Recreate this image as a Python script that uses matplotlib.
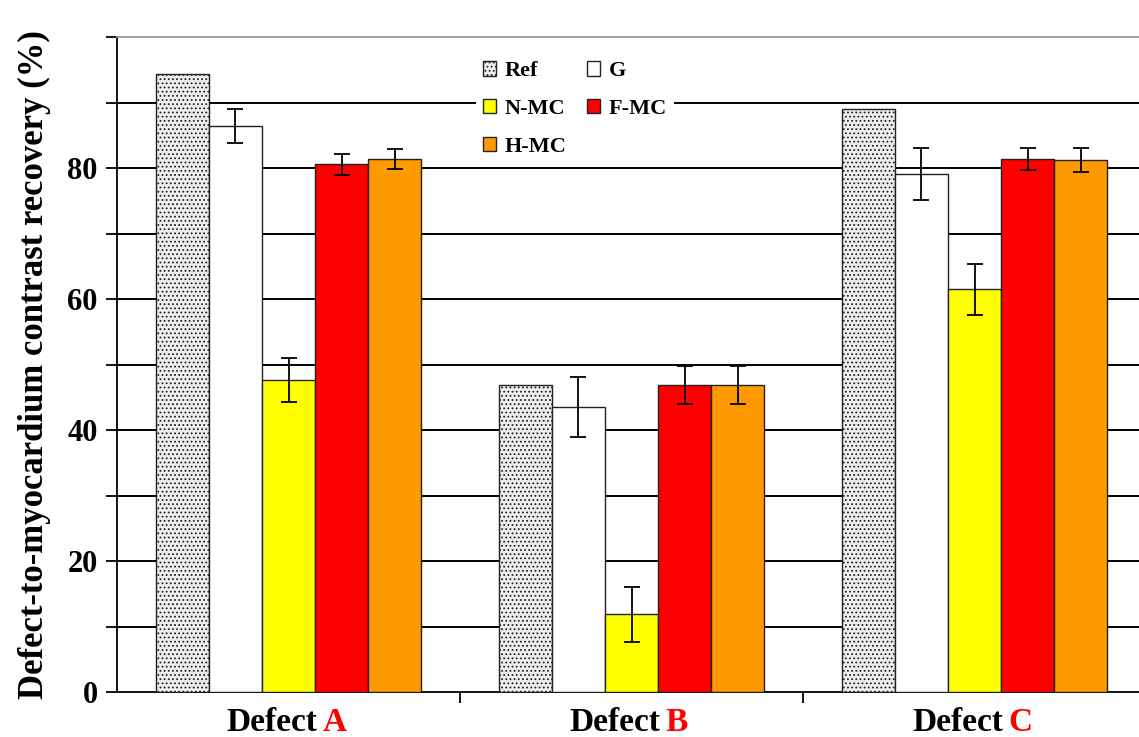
import numpy as np
import matplotlib
matplotlib.use("Agg")
import matplotlib.pyplot as plt

# values
defects = ["A", "B", "C"]
series = ["Ref", "G", "N-MC", "F-MC", "H-MC"]
ref = [94.4, 46.9, 89.0]
g = [86.4, 43.5, 79.1]
nmc = [47.6, 11.9, 61.5]
fmc = [80.6, 46.9, 81.4]
hmc = [81.4, 46.9, 81.2]
g_err = [2.6, 4.6, 4.0]
nmc_err = [3.4, 4.2, 3.9]
fmc_err = [1.6, 2.9, 1.7]
hmc_err = [1.5, 2.9, 1.8]

colors = ["#eeeeee", "white", "#ffff00", "#ff0000", "#ff9900"]


def main():
    plt.rcParams["font.family"] = ["Liberation Serif", "DejaVu Serif"]
    plt.rcParams["font.weight"] = "bold"
    plt.rcParams["hatch.color"] = "#444444"
    plt.rcParams["hatch.linewidth"] = 0.8

    fig = plt.figure(figsize=(11.39, 7.37), dpi=100)
    ax = fig.add_axes([117 / 1139, 1 - 692 / 737, 1029 / 1139, 655 / 737])

    values = [ref, g, nmc, fmc, hmc]
    errors = [None, g_err, nmc_err, fmc_err, hmc_err]
    x = np.arange(len(defects))
    w = 0.155
    handles = []
    for i, name in enumerate(series):
        pos = x + (i - 2) * w
        bars = ax.bar(pos, values[i], w, color=colors[i], edgecolor="#222222",
                      linewidth=1.0, zorder=3, label=name,
                      hatch="...." if name == "Ref" else None)
        handles.append(bars)
        if errors[i] is not None:
            ax.errorbar(pos, values[i], yerr=errors[i], fmt="none", ecolor="black",
                        elinewidth=1.3, capsize=6, capthick=1.3, zorder=4)

    ax.set_xlim(-0.5, 2.5)
    ax.set_ylim(0, 100)
    for yv in range(10, 100, 10):
        ax.axhline(yv, color="black", linewidth=1.4, zorder=1)
    ax.spines["top"].set_color("#999999")
    ax.spines["top"].set_linewidth(1.3)
    ax.spines["right"].set_visible(False)
    ax.spines["left"].set_linewidth(1.3)
    ax.spines["bottom"].set_linewidth(1.3)

    ax.set_yticks(range(0, 101, 10))
    ax.set_yticklabels([str(v) if v % 20 == 0 and v < 100 else "" for v in range(0, 101, 10)],
                       fontsize=22, fontweight="bold")
    ax.tick_params(axis="y", length=8, width=1.3, pad=6)
    ax.set_xticks([0.5, 1.5])
    ax.set_xticklabels([])
    ax.tick_params(axis="x", length=8, width=1.3, direction="out")

    for i, d in enumerate(defects):
        ax.annotate("Defect", xy=(i + 0.083, 0), xycoords=("data", "axes fraction"),
                    xytext=(0, -11), textcoords="offset points", ha="right", va="top",
                    fontsize=24, fontweight="bold", color="black")
        ax.annotate(d, xy=(i + 0.1, 0), xycoords=("data", "axes fraction"),
                    xytext=(0, -11), textcoords="offset points", ha="left", va="top",
                    fontsize=24, fontweight="bold", color="#ff0000")

    ax.set_ylabel("Defect-to-myocardium contrast recovery (%)", fontsize=25,
                  fontweight="bold", labelpad=12)

    order = [0, 2, 4, 1, 3]
    leg = ax.legend([handles[k] for k in order], [series[k] for k in order], ncol=2,
                    loc="upper center", bbox_to_anchor=(0.445, 0.99), frameon=True,
                    fontsize=16, handlelength=0.6, handleheight=0.6, handletextpad=0.4,
                    labelspacing=0.8, columnspacing=0.9, borderpad=0.3)
    leg.get_frame().set_edgecolor("none")
    leg.get_frame().set_facecolor("white")
    leg.get_frame().set_alpha(1)
    leg.set_zorder(5)

    fig.savefig("out.png", dpi=100)


if __name__ == "__main__":
    main()
